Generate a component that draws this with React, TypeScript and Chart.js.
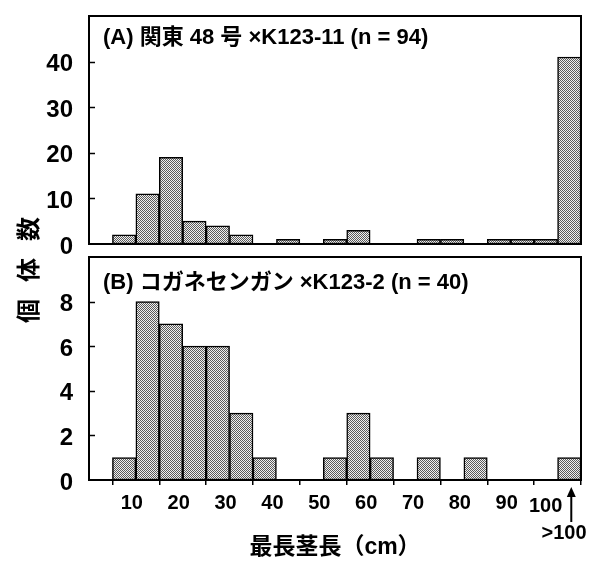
import React, { useEffect, useRef } from 'react';
import { Chart, registerables } from 'chart.js';

Chart.register(...registerables);

// ---- data ----
const binWidth = 5;
const binStarts = [5, 10, 15, 20, 25, 30, 35, 40, 45, 50, 55, 60, 65, 70, 75, 80, 85, 90, 95, 100];
const countsA = [2, 11, 19, 5, 4, 2, 0, 1, 0, 1, 3, 0, 0, 1, 1, 0, 1, 1, 1, 41];
const countsB = [1, 8, 7, 6, 6, 3, 1, 0, 0, 1, 3, 1, 0, 1, 0, 1, 0, 0, 0, 1];
const xTickValues = [0, 10, 20, 30, 40, 50, 60, 70, 80, 90, 100];
const yTicksA = [0, 10, 20, 30, 40];
const yTicksB = [0, 2, 4, 6, 8];
const yMaxA = 50;
const yMaxB = 10;
const titleA = '(A) 関東 48 号 ×K123-11 (n = 94)';
const titleB = '(B) コガネセンガン ×K123-2 (n = 40)';
const xTitle = '最長茎長（cm）';
const yTitle = '個体数';
const overLabel = '>100';
const lastTickLabel = '100';

const LATIN = "'Liberation Sans', Arial, 'Noto Sans CJK JP', sans-serif";

function makePattern(canvas: HTMLCanvasElement) {
  const pc = document.createElement('canvas');
  pc.width = 2;
  pc.height = 2;
  const p = pc.getContext('2d')!;
  p.fillStyle = '#f0f0f0';
  p.fillRect(0, 0, 2, 2);
  p.fillStyle = '#5a5a5a';
  p.fillRect(0, 0, 1, 1);
  p.fillRect(1, 1, 1, 1);
  return canvas.getContext('2d')!.createPattern(pc, 'repeat');
}

const panelPlugin = {
  id: 'panelDecor',
  afterDraw(chart: any, _args: any, opts: any) {
    const { ctx, chartArea } = chart;
    const { left, right, top, bottom } = chartArea;
    ctx.save();
    // inner y ticks
    ctx.strokeStyle = '#000';
    ctx.lineWidth = 1.5;
    const ys = chart.scales.y;
    (opts.yTicks as number[]).forEach((v) => {
      if (v === 0) return;
      const y = Math.round(ys.getPixelForValue(v)) + 0.5;
      ctx.beginPath();
      ctx.moveTo(left, y);
      ctx.lineTo(left + 6, y);
      ctx.stroke();
    });
    // box
    ctx.lineWidth = 2;
    ctx.strokeRect(left, top, right - left, bottom - top);
    // panel title
    ctx.fillStyle = '#000';
    ctx.font = `bold 22px ${LATIN}`;
    ctx.textAlign = 'left';
    ctx.textBaseline = 'middle';
    ctx.fillText(opts.title, left + 14, top + opts.titleDy);
    if (opts.showOver) {
      const xs = chart.scales.x;
      const labelY = bottom + 26;
      ctx.font = `bold 20px ${LATIN}`;
      ctx.textAlign = 'center';
      ctx.fillText(lastTickLabel, xs.getPixelForValue(100) - 12, labelY);
      ctx.textAlign = 'left';
      ctx.fillText(overLabel, xs.getPixelForValue(100) - 16, labelY + 27);
      // arrow
      const ax = xs.getPixelForValue(102.5) + 2;
      ctx.lineWidth = 2;
      ctx.beginPath();
      ctx.moveTo(ax, bottom + 42);
      ctx.lineTo(ax, bottom + 14);
      ctx.stroke();
      ctx.beginPath();
      ctx.moveTo(ax, bottom + 7);
      ctx.lineTo(ax - 4.5, bottom + 17);
      ctx.lineTo(ax + 4.5, bottom + 17);
      ctx.closePath();
      ctx.fill();
    }
    ctx.restore();
  },
};

function makeConfig(
  counts: number[],
  yTicks: number[],
  yMax: number,
  showX: boolean,
  title: string,
  titleDy: number,
  fill: any
): any {
  return {
    type: 'bar',
    data: {
      datasets: [
        {
          data: binStarts.map((s, i) => ({ x: s + binWidth / 2, y: counts[i] === 0 ? null : counts[i] })),
          backgroundColor: fill,
          borderColor: '#000',
          borderWidth: 1.5,
          borderSkipped: false,
          barPercentage: 1,
          categoryPercentage: 1,
          grouped: false,
        },
      ],
    },
    options: {
      responsive: false,
      maintainAspectRatio: false,
      animation: false,
      events: [],
      layout: {
        padding: showX
          ? { left: 0, right: 11, top: 7, bottom: 0 }
          : { left: 0, right: 11, top: 16, bottom: 18 },
      },
      plugins: {
        legend: { display: false },
        tooltip: { enabled: false },
        panelDecor: { yTicks, title, titleDy, showOver: showX },
      },
      scales: {
        x: {
          type: 'linear',
          min: 0,
          max: 105,
          offset: false,
          display: showX,
          afterBuildTicks: (s: any) => {
            s.ticks = xTickValues.map((v) => ({ value: v }));
          },
          afterFit: (s: any) => {
            s.height = showX ? 81 : 0;
            s.paddingLeft = 0;
            s.paddingRight = 0;
          },
          grid: {
            display: true,
            drawOnChartArea: false,
            drawTicks: true,
            tickLength: 5,
            color: '#000',
            lineWidth: 1.5,
          },
          border: { display: true, color: '#000', width: 2 },
          ticks: {
            color: '#000',
            font: { family: LATIN, size: 20, weight: 'bold' },
            padding: 6,
            labelOffset: -4,
            maxRotation: 0,
            autoSkip: false,
            callback: (v: number) => (v === 0 || v === 100 ? '' : String(v)),
          },
          title: {
            display: true,
            text: xTitle,
            color: '#000',
            font: { family: LATIN, size: 23, weight: 'bold' },
            padding: { top: 0, bottom: 0 },
          },
        },
        y: {
          type: 'linear',
          min: 0,
          max: yMax,
          afterBuildTicks: (s: any) => {
            s.ticks = yTicks.map((v) => ({ value: v }));
          },
          afterFit: (s: any) => {
            s.width = 89;
            s.paddingTop = 0;
            s.paddingBottom = 0;
          },
          grid: { display: false, drawTicks: false },
          border: { display: false },
          ticks: {
            color: '#000',
            font: { family: LATIN, size: 24, weight: 'bold' },
            padding: 16,
            labelOffset: 3,
          },
        },
      },
    },
    plugins: [panelPlugin],
  };
}

export default function App() {
  const refA = useRef<HTMLCanvasElement>(null);
  const refB = useRef<HTMLCanvasElement>(null);

  useEffect(() => {
    const ca = refA.current!;
    const cb = refB.current!;
    const a = new Chart(ca, makeConfig(countsA, yTicksA, yMaxA, false, titleA, 22, makePattern(ca)));
    const b = new Chart(cb, makeConfig(countsB, yTicksB, yMaxB, true, titleB, 26, makePattern(cb)));
    return () => {
      a.destroy();
      b.destroy();
    };
  }, []);

  return (
    <div style={{ position: 'absolute', left: 0, top: 0, width: 592, height: 561, background: '#fff' }}>
      <canvas ref={refA} width={592} height={262} style={{ position: 'absolute', left: 0, top: 0 }} />
      <canvas ref={refB} width={592} height={311} style={{ position: 'absolute', left: 0, top: 250 }} />
      <div
        style={{
          position: 'absolute',
          left: 27,
          top: 270,
          transform: 'translate(-50%, -50%) rotate(-90deg)',
          font: `bold 24px 'Noto Sans CJK JP', sans-serif`,
          letterSpacing: '17px',
          paddingLeft: '17px',
          whiteSpace: 'nowrap',
          color: '#000',
          lineHeight: 1,
        }}
      >
        {yTitle}
      </div>
    </div>
  );
}
